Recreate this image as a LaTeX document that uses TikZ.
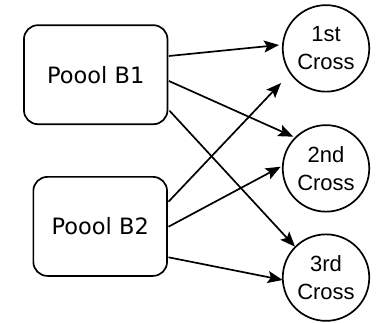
\documentclass[tikz,border=0pt]{standalone}
\usepackage{fontspec}
\newfontfamily\boxfont{DejaVu Sans}
\newfontfamily\circfont{Liberation Sans}
\usetikzlibrary{arrows.meta}
\tikzset{
  poolbox/.style={draw, line width=1.7pt, rounded corners=14pt, inner sep=0pt,
    minimum height=99pt, font=\boxfont\fontsize{22.5}{27}\selectfont},
  crossnode/.style={draw, circle, line width=1.7pt, inner sep=0pt, minimum size=86.5pt,
    align=center, font=\circfont\fontsize{22}{28}\selectfont},
  link/.style={line width=1.7pt, -{Stealth[length=15pt,width=12pt,inset=3pt]}}
}
\begin{document}
\begin{tikzpicture}[x=1pt,y=-1pt]
\useasboundingbox (0,0) rectangle (377,323);
\node[poolbox, minimum width=143.5pt] (b1) at (95.7,74.7) {Poool B1};
\node[poolbox, minimum width=133.7pt] (b2) at (100.2,226.4) {Poool B2};
\node[crossnode] (c1) at (326,48.4) {1st\\Cross};
\node[crossnode] (c2) at (326,168.4) {2nd\\Cross};
\node[crossnode] (c3) at (326,277.6) {3rd\\Cross};
% arrow tips
\coordinate (t11) at ([shift={(-47,-3.4)}]c1.center);
\coordinate (t21) at ([shift={(-45,34.6)}]c1.center);
\coordinate (t12) at ([shift={(-32.7,-31.7)}]c2.center);
\coordinate (t22) at ([shift={(-45.3,-1.7)}]c2.center);
\coordinate (t13) at ([shift={(-31,-30.9)}]c3.center);
\coordinate (t23) at ([shift={(-43.3,2.4)}]c3.center);
\draw[link] ([shift={(0.6,-18.7)}]b1.east) -- (t11);
\draw[link] ([shift={(0.6,6.3)}]b1.east) -- (t12);
\draw[link] ([shift={(1.2,36)}]b1.east) -- (t13);
\draw[link] ([shift={(0.6,-24.7)}]b2.east) -- (t21);
\draw[link] ([shift={(0.6,0.3)}]b2.east) -- (t22);
\draw[link] ([shift={(0.6,30.9)}]b2.east) -- (t23);
\end{tikzpicture}
\end{document}
